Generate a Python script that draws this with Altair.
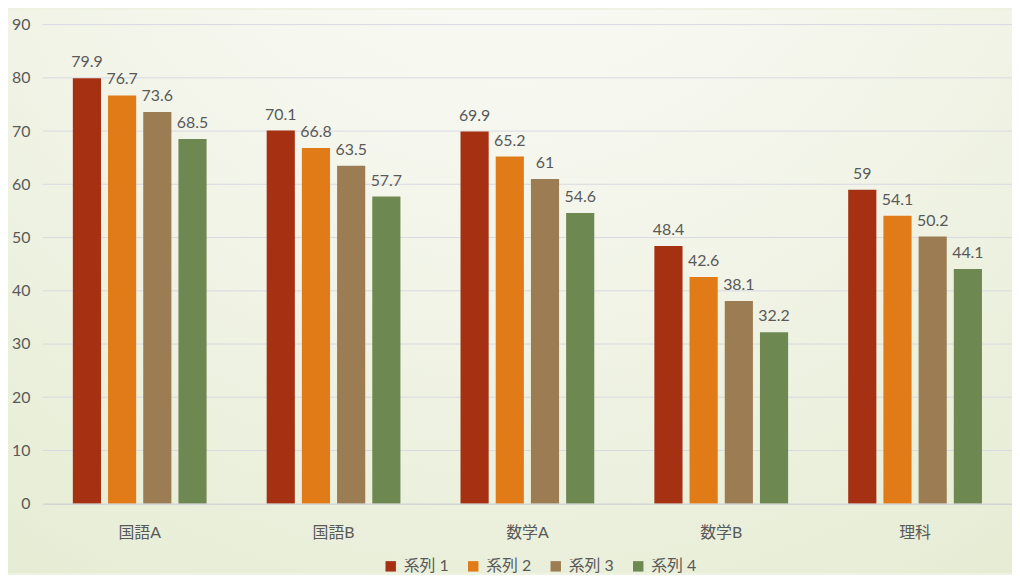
import altair as alt
import pandas as pd

categories = ["国語A", "国語B", "数学A", "数学B", "理科"]
series_names = ["系列 1", "系列 2", "系列 3", "系列 4"]
s1 = [79.9, 70.1, 69.9, 48.4, 59]
s2 = [76.7, 66.8, 65.2, 42.6, 54.1]
s3 = [73.6, 63.5, 61, 38.1, 50.2]
s4 = [68.5, 57.7, 54.6, 32.2, 44.1]
colors = ["#A53012", "#E07B17", "#9C7C52", "#6E8852"]
y_ticks = list(range(0, 100, 10))

rows = []
for name, vals in zip(series_names, [s1, s2, s3, s4]):
    for c, v in zip(categories, vals):
        rows.append({"category": c, "series": name, "value": v})
df = pd.DataFrame(rows)
grid_df = pd.DataFrame({"value": y_ticks[1:]})

W, H = 975, 482
FONT = "Lato, 'Noto Sans CJK JP', sans-serif"

bg = alt.Chart(pd.DataFrame({"a": [0]})).mark_rect(
    fill=alt.RadialGradient(
        gradient="radial",
        x1=0.5, y1=0.0, x2=0.5, y2=0.0, r1=0.0, r2=1.0,
        stops=[
            alt.GradientStop(offset=0.0, color="#fdfdfa"),
            alt.GradientStop(offset=0.45, color="#f3f5ea"),
            alt.GradientStop(offset=1.0, color="#e4ebd0"),
        ],
    )
).encode(
    x=alt.value(-35), x2=alt.value(W), y=alt.value(-15), y2=alt.value(H + 70)
)

y_scale = alt.Scale(domain=[0, 90], nice=False)
y_axis = alt.Axis(values=y_ticks, labelFontSize=16, labelColor="#595959", labelFont=FONT,
                  labelPadding=13, ticks=False, domain=False, grid=False, zindex=1)

grid = alt.Chart(grid_df).mark_rule(color="#d9d9e2", strokeWidth=1).encode(
    y=alt.Y("value:Q", scale=y_scale, axis=y_axis, title=None),
    x=alt.value(0), x2=alt.value(W),
)

x_enc = alt.X(
    "category:N", sort=categories, title=None,
    scale=alt.Scale(paddingInner=0.31, paddingOuter=0.155),
    axis=alt.Axis(labelAngle=0, labelFontSize=16, labelColor="#595959", labelFont=FONT,
                  labelPadding=21, ticks=False, domainColor="#d4d4d4", domainWidth=1.5,
                  grid=False, zindex=1),
)
y_enc = alt.Y("value:Q", title=None, scale=y_scale, axis=y_axis)
xoff = alt.XOffset("series:N", sort=series_names,
                   scale=alt.Scale(paddingInner=0.2, paddingOuter=0))

bars = alt.Chart(df).mark_bar().encode(
    x=x_enc, y=y_enc, xOffset=xoff,
    color=alt.Color("series:N", sort=series_names,
                    scale=alt.Scale(domain=series_names, range=colors),
                    legend=alt.Legend(title=None, orient="none", direction="horizontal",
                                      legendX=342, legendY=537, symbolType="square",
                                      symbolSize=110, symbolStrokeWidth=0,
                                      labelFontSize=16, labelColor="#595959", labelFont=FONT,
                                      columnPadding=16, labelOffset=5)),
)

labels = alt.Chart(df).mark_text(
    baseline="bottom", dy=-8, fontSize=16, color="#595959", font=FONT
).encode(
    x=alt.X("category:N", sort=categories),
    y=y_enc,
    xOffset=xoff,
    text=alt.Text("value:Q"),
)

chart = alt.layer(bg, grid, bars, labels).properties(
    width=W, height=H,
    padding={"left": 35, "top": 15, "right": 0, "bottom": 70},
    autosize=alt.AutoSizeParams(type="none"),
).configure_view(stroke=None).configure(background="#eef2e2")

chart.save("out.html", embed_options={"renderer": "svg", "actions": False})
